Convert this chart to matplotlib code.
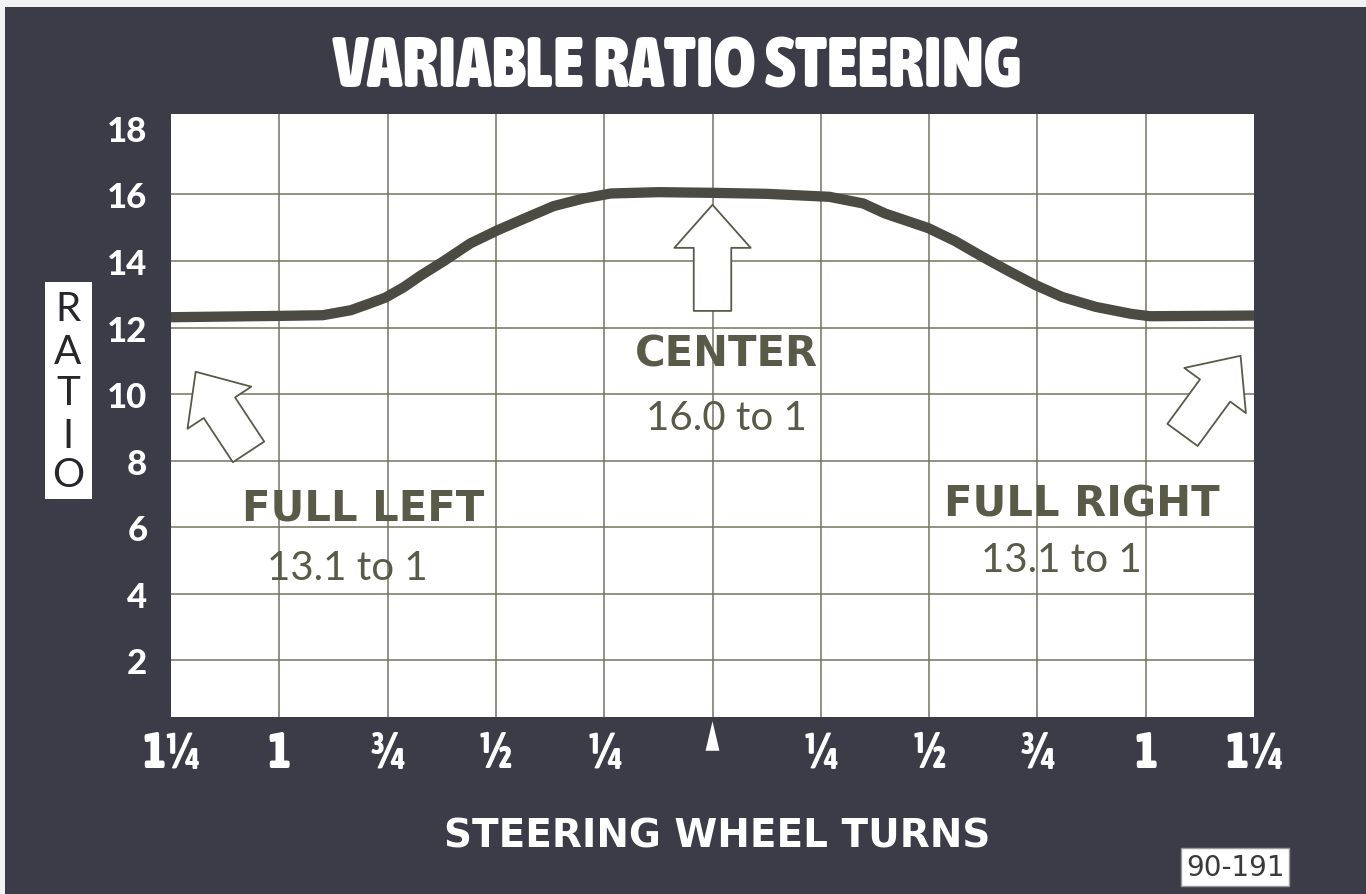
import matplotlib
matplotlib.use("Agg")
import matplotlib.pyplot as plt
from matplotlib import font_manager as fm
from matplotlib.font_manager import FontProperties
from matplotlib.patches import Rectangle, Polygon
from matplotlib.transforms import blended_transform_factory

# Steering wheel turns from center (left negative) and the gear ratio
turns = [-1.25, -1.0, -0.9, -0.835, -0.79, -0.755, -0.713, -0.674, -0.62, -0.559,
         -0.497, -0.437, -0.367, -0.298, -0.235, -0.125, 0.0, 0.125, 0.27, 0.348,
         0.398, 0.498, 0.56, 0.62, 0.683, 0.745, 0.807, 0.885, 0.967, 1.01, 1.25]
ratio = [12.31, 12.35, 12.37, 12.52, 12.73, 12.9, 13.21, 13.56, 14.0, 14.53,
         14.92, 15.26, 15.65, 15.88, 16.03, 16.07, 16.05, 16.02, 15.93, 15.73,
         15.43, 14.99, 14.6, 14.15, 13.7, 13.28, 12.92, 12.62, 12.41, 12.34, 12.36]

y_ticks = [2, 4, 6, 8, 10, 12, 14, 16, 18]
x_ticks = [-1.25, -1.0, -0.75, -0.5, -0.25, 0.0, 0.25, 0.5, 0.75, 1.0, 1.25]
x_labels = ["1¼", "1", "¾", "½", "¼", "", "¼", "½", "¾", "1", "1¼"]

title = "VARIABLE RATIO STEERING"
x_title = "STEERING WHEEL TURNS"
y_title = "RATIO"
fig_code = "90-191"

callouts = [
    ("CENTER", "16.0 to 1", (0.032, 10.85), (0.032, 8.95)),
    ("FULL LEFT", "13.1 to 1", (-0.806, 6.24), (-0.843, 4.44)),
    ("FULL RIGHT", "13.1 to 1", (0.852, 6.34), (0.806, 4.68)),
]
# (tip, tail) of the outline pointers
pointers = [
    ((0.0, 15.69), (0.0, 12.50)),
    ((-1.193, 10.67), (-1.071, 8.26)),
    ((1.219, 11.15), (1.085, 8.77)),
]

BG = "#3c3b48"
INK = "#5a5a48"
CURVE = "#4b4b43"
GRID = "#74745f"


def condensed_bold():
    """Return a bold condensed/narrow face if one is installed."""
    best = None
    for f in fm.fontManager.ttflist:
        name = (f.fname + " " + f.name).lower()
        if ("condensed" in name or "narrow" in name) and "semi" not in name:
            w = f.weight if isinstance(f.weight, int) else 400
            if w >= 600 and "italic" not in name and "oblique" not in name:
                if best is None or w > best[0]:
                    best = (w, f.fname)
    if best:
        return FontProperties(fname=best[1])
    return FontProperties(family="DejaVu Sans", weight="bold")


narrow = condensed_bold()

W, H = 1366, 895
fig = plt.figure(figsize=(W / 100, H / 100), dpi=100, facecolor=BG)
renderer = fig.canvas.get_renderer()

# light paper edge along top and left
fig.patches.append(Rectangle((0, 1 - 8 / H), 1, 8 / H, transform=fig.transFigure,
                             facecolor="#f2f2f2", edgecolor="none", zorder=0))
fig.patches.append(Rectangle((0, 0), 5 / W, 1, transform=fig.transFigure,
                             facecolor="#f2f2f2", edgecolor="none", zorder=0))

ax = fig.add_axes([171 / W, 177 / H, 1083 / W, 603 / H])
ax.set_facecolor("white")
ax.set_xlim(-1.25, 1.25)
ax.set_ylim(0.29, 18.42)
for s in ax.spines.values():
    s.set_visible(False)

# grid
ax.vlines(x_ticks[1:-1], 0.29, 18.42, color=GRID, lw=1.1, zorder=1)
ax.hlines(y_ticks[:-1], -1.25, 1.25, color=GRID, lw=1.1, zorder=1)

# ratio curve
ax.plot(turns, ratio, color=CURVE, lw=7.4, solid_capstyle="butt",
        solid_joinstyle="round", zorder=3)

# ticks
ax.set_yticks(y_ticks)
ax.set_yticklabels([str(v) for v in y_ticks], color="white", fontsize=25,
                   fontweight="black", family=["Lato", "DejaVu Sans"])
ax.tick_params(axis="y", length=0, pad=17)
ax.set_xticks(x_ticks)
ax.set_xticklabels(x_labels, color="white")
xfp = narrow.copy()
xfp.set_size(36)
for lab in ax.get_xticklabels():
    lab.set_fontproperties(xfp)
ax.tick_params(axis="x", length=0, pad=9)

# center marker below the axis
trans = blended_transform_factory(ax.transData, ax.transAxes)
hw = 0.016
ax.add_patch(Polygon([(-hw, -0.056), (hw, -0.056), (0.0, -0.007)], closed=True,
                     transform=trans, facecolor="white", edgecolor="none",
                     clip_on=False))

# callout texts
for head, value, pos_head, pos_val in callouts:
    ax.text(*pos_head, head, ha="center", va="baseline", color=INK, fontsize=30,
            fontweight="bold", family=["DejaVu Sans"], zorder=4)
    ax.text(*pos_val, value, ha="center", va="baseline", color=INK, fontsize=29,
            family=["Lato", "DejaVu Sans"], zorder=4)

# outline pointers
for tip, tail in pointers:
    ax.annotate("", xy=tip, xytext=tail,
                arrowprops=dict(arrowstyle="simple,head_length=31,head_width=55,tail_width=27",
                                mutation_scale=1, shrinkA=0, shrinkB=0,
                                facecolor="white", edgecolor=INK, lw=1.3),
                zorder=5)

# title, sized to span its band
tfp = narrow.copy()
tfp.set_size(52)
t = fig.text(677 / W, 1 - 88 / H, title, ha="center", va="baseline", color="white",
             fontproperties=tfp)
width = t.get_window_extent(renderer).width
if width > 690:
    tfp.set_size(52 * 690 / width)
    t.set_fontproperties(tfp)

fig.text(717 / W, 1 - 848 / H, x_title, ha="center", va="baseline", color="white",
         fontsize=28, fontweight="bold", family=["DejaVu Sans"])

# stacked axis name in a white panel
fig.patches.append(Rectangle((45 / W, 1 - 500 / H), 47 / W, 217 / H,
                             transform=fig.transFigure, facecolor="white",
                             edgecolor="none", zorder=1))
for ch, yp in zip(y_title, [310, 352, 394, 437, 476]):
    fig.text(68 / W, 1 - yp / H, ch, ha="center", va="center", color="#26262b",
             fontsize=29, fontweight="normal", family=["Lato", "DejaVu Sans"],
             zorder=2)

# figure number
fig.text(1235 / W, 1 - 868 / H, fig_code, ha="center", va="center", color="#3a3a3a",
         fontsize=20, family=["DejaVu Sans"],
         bbox=dict(boxstyle="square,pad=0.18", facecolor="white",
                   edgecolor="#9a9a9a", lw=1))

fig.savefig("out.png", dpi=100, facecolor=BG)
